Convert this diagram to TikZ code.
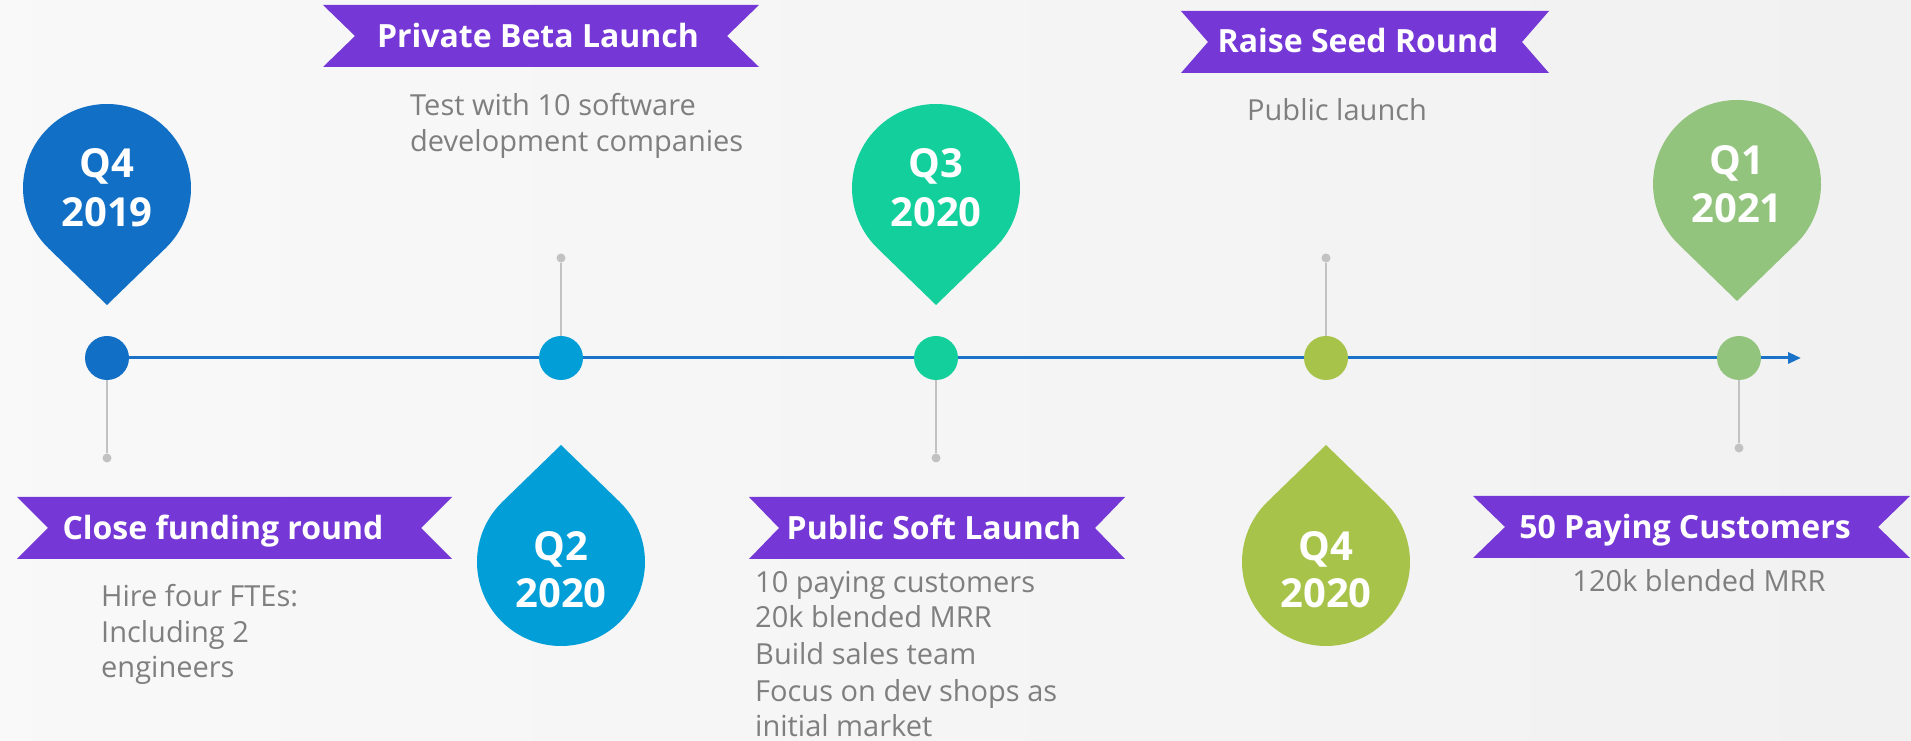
\documentclass[tikz,border=0pt]{standalone}
\usepackage{fontspec}
\setmainfont{Open Sans}
\usetikzlibrary{arrows.meta,backgrounds}
\pgfdeclarelayer{lines}
\pgfsetlayers{background,lines,main}
\definecolor{cA}{HTML}{116FC6}
\definecolor{cB}{HTML}{019ED8}
\definecolor{cC}{HTML}{12CF9B}
\definecolor{cD}{HTML}{A8C34A}
\definecolor{cE}{HTML}{93C47D}
\definecolor{ribbon}{HTML}{7537D6}
\definecolor{descgray}{HTML}{7F7F7F}
\definecolor{stemgray}{HTML}{C2C2C2}
\definecolor{tline}{HTML}{1A72C9}
\newcommand{\ribbonshape}[5]{%
  \fill[ribbon] (#1,#3) -- (#2,#3) -- (#2-#5,{(#3+#4)/2}) -- (#2,#4) -- (#1,#4) -- (#1+#5,{(#3+#4)/2}) -- cycle;}
\newcommand{\pindown}[3]{%
  \fill[#3] (#1,#2) ++(-45.9:84pt) arc[start angle=-45.9,end angle=225.9,radius=84pt] -- (#1,#2-117) -- cycle;}
\newcommand{\pinup}[3]{%
  \fill[#3] (#1,#2) ++(134.1:84pt) arc[start angle=134.1,end angle=405.9,radius=84pt] -- (#1,#2+117) -- cycle;}
\tikzset{
  dotnode/.style={circle, minimum size=44pt, inner sep=0pt, fill=#1},
  endnode/.style={circle, minimum size=9pt, inner sep=0pt, fill=stemgray},
  stemline/.style={draw=stemgray, line width=2.2pt},
  bannertext/.style={text=white, font=\bfseries\fontsize{32}{40}\selectfont, anchor=base, inner sep=0pt},
  desc/.style={text=descgray, font=\fontsize{29}{36}\selectfont, anchor=base west, inner sep=0pt},
  pintext/.style={text=white, font=\bfseries\fontsize{40}{48}\selectfont, anchor=base, inner sep=0pt},
}
\begin{document}
\begin{tikzpicture}[x=1pt,y=1pt]
\useasboundingbox (0,0) rectangle (1911,741);
\begin{pgfonlayer}{background}
\shade[left color=white!97.5!black, right color=white!94.5!black] (0,0) rectangle (1911,741);
\end{pgfonlayer}

% timeline dots
\node[dotnode=cA] (d1) at (107,383) {};
\node[dotnode=cB] (d2) at (561,383) {};
\node[dotnode=cC] (d3) at (936,383) {};
\node[dotnode=cD] (d4) at (1326,383) {};
\node[dotnode=cE] (d5) at (1739,383) {};
\coordinate (tend) at (1801,383);

% stem ends
\node[endnode] (e1) at (107,283) {};
\node[endnode] (e2) at (561,483) {};
\node[endnode] (e3) at (936,283) {};
\node[endnode] (e4) at (1326,483) {};
\node[endnode] (e5) at (1739,293) {};

\begin{pgfonlayer}{lines}
\draw[tline, line width=3pt, -{Triangle[length=13pt,width=11pt]}] (d1.center) -- (tend);
\draw[stemline] (d1.center) -- (e1);
\draw[stemline] (d2.center) -- (e2);
\draw[stemline] (d3.center) -- (e3);
\draw[stemline] (d4.center) -- (e4);
\draw[stemline] (d5.center) -- (e5);
\end{pgfonlayer}

% pins
\pindown{107}{553}{cA}
\node[pintext] (p1a) at (107,563) {Q4};
\node[pintext] (p1b) at (107,514) {2019};
\pinup{561}{179}{cB}
\node[pintext] (p2a) at (561,180) {Q2};
\node[pintext] (p2b) at (561,133) {2020};
\pindown{936}{553}{cC}
\node[pintext] (p3a) at (936,563) {Q3};
\node[pintext] (p3b) at (936,514) {2020};
\pinup{1326}{179}{cD}
\node[pintext] (p4a) at (1326,180) {Q4};
\node[pintext] (p4b) at (1326,133) {2020};
\pindown{1737}{557}{cE}
\node[pintext] (p5a) at (1737,566) {Q1};
\node[pintext] (p5b) at (1737,518) {2021};

% banners
\ribbonshape{323}{759}{736}{674}{32}
\node[bannertext] (b2) at (538,693) {Private Beta Launch};
\ribbonshape{1181}{1549}{730}{668}{27}
\node[bannertext] (b4) at (1358,688) {Raise Seed Round};
\ribbonshape{17}{452}{244}{182}{31}
\node[bannertext] (b1) at (223,201) {Close funding round};
\ribbonshape{749}{1125}{244}{182}{30}
\node[bannertext] (b3) at (934,201) {Public Soft Launch};
\ribbonshape{1473}{1910}{245}{183}{32}
\node[bannertext] (b5) at (1685,202) {50 Paying Customers};

% descriptions
\node[desc] (t2a) at (410,625) {Test with 10 software};
\node[desc] (t2b) at (410,589) {development companies};
\node[desc] (t4a) at (1247,620) {Public launch};
\node[desc] (t1a) at (101,134) {Hire four FTEs:};
\node[desc] (t1b) at (101,98) {Including 2};
\node[desc] (t1c) at (101,63) {engineers};
\node[desc] (t3a) at (755,148) {10 paying customers};
\node[desc] (t3b) at (755,113) {20k blended MRR};
\node[desc] (t3c) at (755,76) {Build sales team};
\node[desc] (t3d) at (755,39) {Focus on dev shops as};
\node[desc] (t3e) at (755,4) {initial market};
\node[desc, anchor=base] (t5a) at (1699,149) {120k blended MRR};
\end{tikzpicture}
\end{document}
